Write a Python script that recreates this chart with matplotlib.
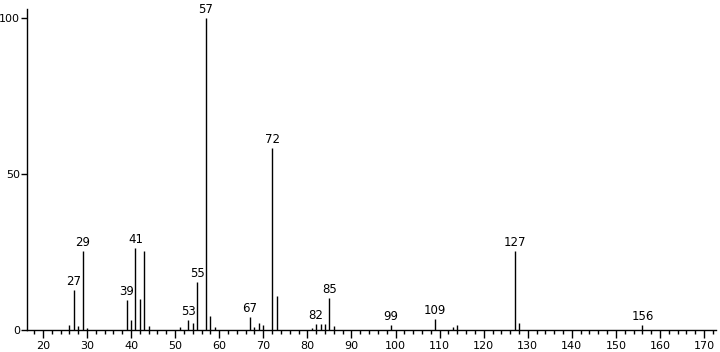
import matplotlib
matplotlib.use("Agg")
import matplotlib.pyplot as plt
from matplotlib.ticker import MultipleLocator

mz = [26, 27, 28, 29, 30, 39, 40, 41, 42, 43, 44, 51, 53, 54, 55, 57, 58, 59,
      67, 68, 69, 70, 72, 73, 81, 82, 83, 84, 85, 86, 99, 109, 113, 114,
      127, 128, 156]
intensity = [1.6, 12.8, 1.3, 25.3, 0.6, 9.6, 3.2, 26.3, 9.8, 25.3, 1.3, 1.0,
             3.2, 2.3, 15.5, 100, 4.5, 0.9,
             4.2, 1.0, 2.3, 1.6, 58.3, 11.0, 0.7, 1.9, 1.9, 1.9, 10.4, 1.2,
             1.5, 3.6, 1.0, 1.6, 25.3, 2.3, 1.6]
labeled = [27, 29, 39, 41, 53, 55, 57, 67, 72, 82, 85, 99, 109, 127, 156]

plt.rcParams['font.family'] = ['DejaVu Sans']
fig = plt.figure(figsize=(7.2, 3.52), dpi=100)
ax = fig.add_axes([27/720, 1-330/352, (716-27)/720, 321/352])

ax.vlines(mz, 0, intensity, colors='black', linewidth=1.0)
for m, v in zip(mz, intensity):
    if m in labeled:
        ax.text(m, v + 0.6, str(m), ha='center', va='bottom', fontsize=8.5, color='black')

ax.set_xlim(16.4, 172.7)
ax.set_ylim(0, 102.9)
ax.xaxis.set_major_locator(MultipleLocator(10))
ax.xaxis.set_minor_locator(MultipleLocator(2))
ax.set_yticks([0, 50, 100])
ax.tick_params(axis='x', which='major', direction='out', length=6, width=1, labelsize=8, pad=2)
ax.tick_params(axis='x', which='minor', direction='out', length=3, width=1)
ax.tick_params(axis='y', which='major', direction='out', length=4, width=1, labelsize=8, pad=1)
for s in ['top', 'right']:
    ax.spines[s].set_visible(False)
for s in ['left', 'bottom']:
    ax.spines[s].set_linewidth(1.0)

fig.savefig("out.png", dpi=100)
